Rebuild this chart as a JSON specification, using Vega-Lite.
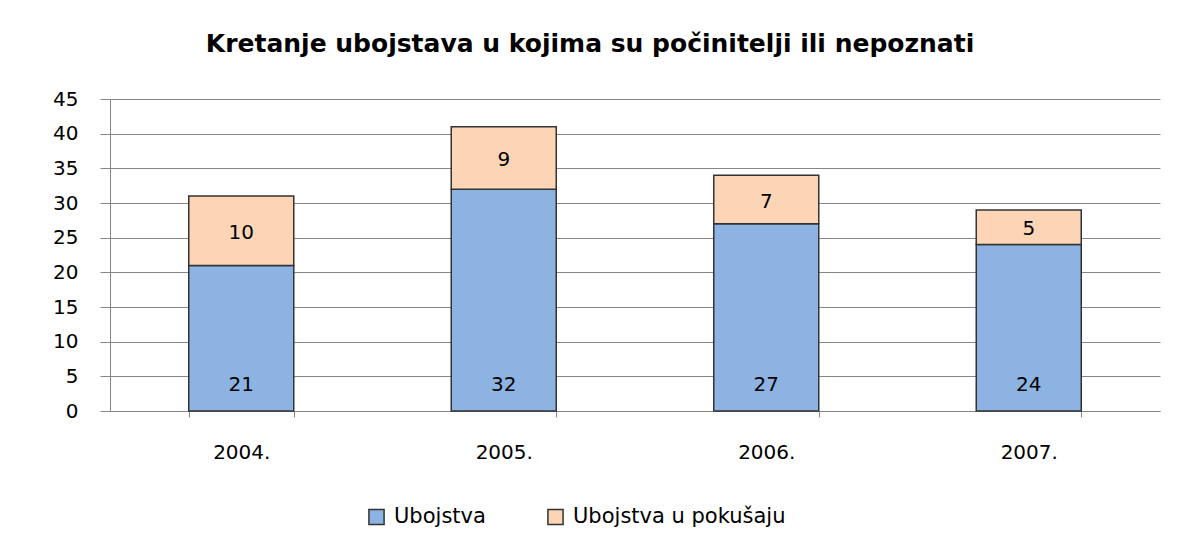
{
  "$schema": "https://vega.github.io/schema/vega-lite/v6.json",
  "autosize": "none",
  "width": 1050,
  "height": 312,
  "padding": {"left": 110, "top": 99, "right": 19, "bottom": 130},
  "background": "white",
  "config": {
    "font": "DejaVu Sans",
    "view": {"stroke": null}
  },
  "title": {
    "text": "Kretanje ubojstava u kojima su počinitelji ili nepoznati",
    "font": "DejaVu Sans",
    "fontSize": 25,
    "fontWeight": "bold",
    "color": "#000000",
    "anchor": "middle",
    "dx": -45,
    "offset": 32
  },
  "data": {
    "values": [
      {"year": "2004.", "series": "Ubojstva", "value": 21, "o": 1},
      {"year": "2004.", "series": "Ubojstva u pokušaju", "value": 10, "o": 2},
      {"year": "2005.", "series": "Ubojstva", "value": 32, "o": 1},
      {"year": "2005.", "series": "Ubojstva u pokušaju", "value": 9, "o": 2},
      {"year": "2006.", "series": "Ubojstva", "value": 27, "o": 1},
      {"year": "2006.", "series": "Ubojstva u pokušaju", "value": 7, "o": 2},
      {"year": "2007.", "series": "Ubojstva", "value": 24, "o": 1},
      {"year": "2007.", "series": "Ubojstva u pokušaju", "value": 5, "o": 2}
    ]
  },
  "encoding": {
    "x": {
      "field": "year",
      "type": "nominal",
      "scale": {"paddingInner": 0.6, "paddingOuter": 0.3},
      "axis": {
        "title": null,
        "labelAngle": 0,
        "labelFontSize": 20,
        "labelColor": "#000000",
        "labelPadding": 25,
        "domainColor": "#868686",
        "tickColor": "#868686",
        "tickSize": 6,
        "tickBand": "extent",
        "grid": false
      }
    }
  },
  "layer": [
    {
      "mark": {"type": "bar", "stroke": "#333333", "strokeWidth": 1.5},
      "encoding": {
        "y": {
          "field": "value",
          "type": "quantitative",
          "stack": "zero",
          "scale": {"domain": [0, 45], "nice": false},
          "axis": {
            "title": null,
            "values": [0, 5, 10, 15, 20, 25, 30, 35, 40, 45],
            "tickCount": 10,
            "labelOverlap": false,
            "labelFontSize": 20,
            "labelColor": "#000000",
            "labelPadding": 22,
            "tickSize": 10,
            "tickColor": "#868686",
            "domainColor": "#868686",
            "gridColor": "#868686",
            "gridWidth": 1
          }
        },
        "order": {"field": "o"},
        "color": {
          "field": "series",
          "type": "nominal",
          "scale": {"domain": ["Ubojstva", "Ubojstva u pokušaju"], "range": ["#8DB3E2", "#FBD5B5"]},
          "legend": {
            "title": null,
            "orient": "none",
            "direction": "horizontal",
            "legendX": 256,
            "legendY": 407,
            "symbolType": "square",
            "symbolSize": 230,
            "symbolStrokeColor": "#333333",
            "symbolStrokeWidth": 1.5,
            "labelFontSize": 21,
            "labelColor": "#000000",
            "labelLimit": 400,
            "labelOffset": 7,
            "columnPadding": 58
          }
        }
      }
    },
    {
      "transform": [{"filter": "datum.o == 1"}],
      "mark": {"type": "text", "fontSize": 20, "color": "#000000", "baseline": "middle", "dy": -26},
      "encoding": {
        "y": {"datum": 0, "type": "quantitative"},
        "text": {"field": "value", "type": "quantitative"}
      }
    },
    {
      "transform": [
        {"stack": "value", "groupby": ["year"], "sort": [{"field": "o", "order": "ascending"}], "as": ["s0", "s1"]},
        {"filter": "datum.o == 2"},
        {"fold": ["s0", "s1"], "as": ["k", "pos"]}
      ],
      "mark": {"type": "text", "fontSize": 20, "color": "#000000", "baseline": "middle", "dy": 2},
      "encoding": {
        "y": {"field": "pos", "type": "quantitative", "aggregate": "mean"},
        "text": {"field": "value", "type": "quantitative", "aggregate": "max"}
      }
    }
  ]
}
